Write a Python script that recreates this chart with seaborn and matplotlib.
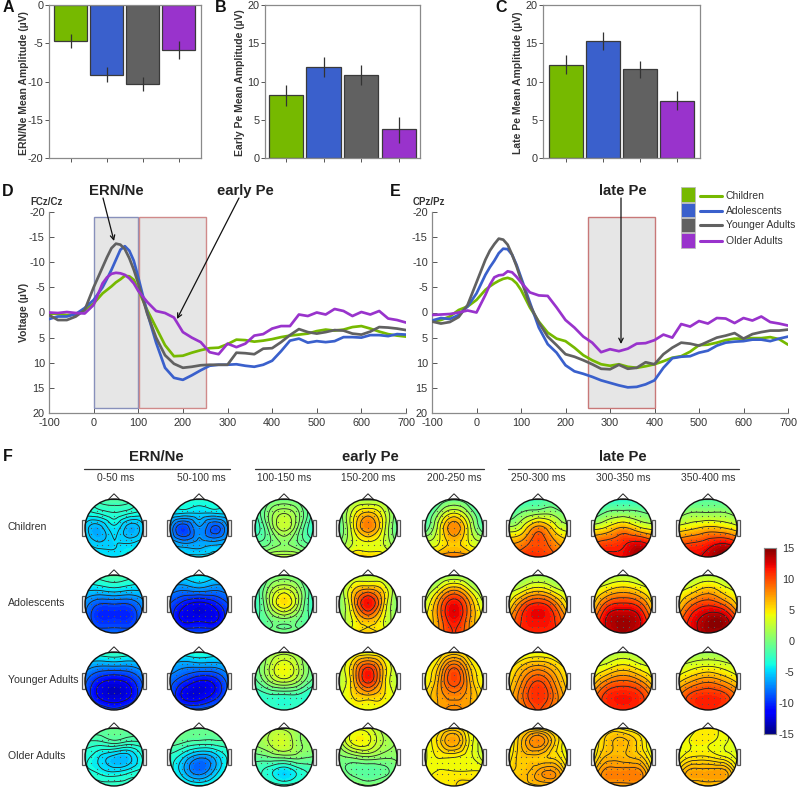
import numpy as np
import pandas as pd
import matplotlib
matplotlib.use('Agg')
import matplotlib.pyplot as plt
import matplotlib.tri as mtri
from matplotlib.patches import Circle, Rectangle, Polygon
from matplotlib.lines import Line2D
import seaborn as sns

W, H = 798, 791

groups = ['Children', 'Adolescents', 'Younger Adults', 'Older Adults']
colors = ['#76B900', '#3A60CC', '#616161', '#9933CC']
edge_col = '#3a3a3a'
text_col = '#333333'
spine_col = '#8a8a8a'

# bar charts
ern_mean = [-4.7, -9.1, -10.3, -5.9]
ern_low = [-3.8, -8.1, -9.4, -4.7]
ern_high = [-5.6, -10.1, -11.2, -7.0]
early_mean = [8.2, 11.9, 10.8, 3.8]
early_low = [6.8, 10.6, 9.5, 2.0]
early_high = [9.6, 13.2, 12.1, 5.4]
late_mean = [12.2, 15.3, 11.6, 7.5]
late_low = [11.0, 14.1, 10.5, 6.3]
late_high = [13.4, 16.5, 12.7, 8.7]

# waveforms, read every 20 ms, every 10 ms around the peak
times = [-100, -80, -60, -40, -20, 0, 20, 30, 40, 50, 60, 70, 80, 90] + list(range(100, 701, 20))
fcz_children = [0.2, 0.3, 0.5, 0.4, -0.5, -1.8, -3.8, -4.5, -5.2, -6, -6.6, -7.3, -7.2, -6.5, -4.5, -0.5, 3, 6.5, 8.7, 8.6, 8, 7.5, 7.1, 7, 6.3,
                5.4, 5.5, 5.8, 5.6, 5.3, 4.9, 4.6, 4.4, 4.2, 3.7, 3.4, 3.6, 3.4, 2.9, 2.7, 3.2, 3.8, 4.3, 4.6, 4.8]
fcz_adolescents = [1.3, 0.8, 0.8, 0.3, -0.9, -2.5, -5, -6.7, -8.5, -10.5, -12.5, -13.2, -12.3, -10.3, -7, 0, 6, 11, 13, 13.4, 12.5, 11.5, 10.6, 10.4, 10.4,
                   10.3, 10.6, 10.8, 10.4, 9.6, 7.7, 5.6, 5.2, 6, 5.7, 5.9, 5.7, 4.9, 4.9, 5, 4.5, 4.5, 4.7, 4.3, 4.4]
fcz_younger = [0.5, 1.5, 1.5, 0.8, -0.5, -5, -9, -11, -12.8, -13.7, -13.5, -12.6, -10.8, -8.5, -5.8, 0.2, 5, 8.5, 10.2, 11, 10.8, 10.5, 10.4, 10.4, 10.4,
               8, 8.1, 8.3, 7.2, 7.1, 5.9, 4.5, 3.3, 3.9, 4.2, 3.9, 3.5, 3.6, 4.2, 4.4, 3.8, 2.9, 3, 3.2, 3.5]
fcz_older = [0, 0.1, -0.1, 0.1, 0.2, -1.5, -5.8, -7, -7.7, -7.9, -7.8, -7.5, -6.8, -5.8, -4.3, -2.1, -0.3, 0.1, 1, 3.9, 5, 5.9, 7.9, 8.3, 6.2,
             6.9, 6.2, 4.6, 4.3, 3.2, 2.7, 2.7, 0.4, 0.7, 0, 0.4, -0.7, -0.3, 0.7, -0.1, 0.4, -0.3, 1.2, 1.5, 2]
cpz_children = [1.8, 1.5, 0.8, -0.5, -1.2, -2.5, -4.5, -5.2, -5.8, -6.3, -6.7, -6.9, -6.6, -5.8, -4.5, -1, 1.8, 4, 5.2, 5.7, 7, 8.5, 9.5, 10.3, 10.6,
                10.3, 10.8, 11, 10.7, 10.3, 9.7, 9, 8.7, 7.8, 6.5, 6.4, 6, 5.5, 5.2, 5.2, 5.1, 5.1, 4.9, 5.3, 6.4]
cpz_adolescents = [1.6, 1.1, 1.3, 0.5, -1.2, -3.8, -7.5, -9, -10.3, -11.8, -12.7, -12.6, -11.5, -9.5, -7, -2, 3, 6.3, 8, 10.5, 11.7, 12.2, 12.8, 13.5, 14,
                   14.5, 14.9, 14.8, 14.3, 13.5, 11, 9.1, 8.8, 8.7, 8, 7.6, 6.6, 6, 5.8, 5.7, 5.4, 5.4, 5.7, 5.2, 4.8]
cpz_younger = [1.8, 2.2, 1.9, 0.9, -1.5, -6, -10.5, -12.3, -13.6, -14.7, -14.5, -13.5, -11.5, -9.2, -6.5, -1.5, 2, 4.8, 6.5, 8.3, 8.8, 9.5, 10.3, 11.2, 11.3,
               10.4, 11.2, 11, 9.9, 10.3, 8.3, 7, 6, 6.2, 6.6, 5.8, 5, 4.6, 4.1, 5.2, 4.3, 3.9, 3.6, 3.6, 3.4]
cpz_older = [0.5, 0.4, 0.3, 0, -0.4, 0, -3.5, -5.5, -7, -7.4, -7.5, -8.2, -8, -7.1, -6, -4, -3.4, -3.3, -1, 1.5, 3, 4.8, 6, 7.9, 7.3,
             7.7, 7.2, 6.2, 6.1, 5.5, 4.4, 5, 2.3, 2.8, 1.7, 2.2, 1.1, 1.2, 2.1, 1.1, 1.6, 0.8, 1.9, 2.2, 2.6]

window_labels = ['0-50 ms', '50-100 ms', '100-150 ms', '150-200 ms', '200-250 ms',
                 '250-300 ms', '300-350 ms', '350-400 ms']

# scalp maps: 5 rows front to back, 5 columns left to right, one map per window
topo_children = [
    [[-3, -2, -1.5, -2, -3], [-4, -3.5, -3, -3.5, -4], [-5, -6, -4.5, -6, -5], [-4.5, -5.5, -5, -5, -4.5], [-4, -4, -4.5, -4, -4]],
    [[-4, -3.5, -3, -3.5, -4], [-5, -5, -5, -5, -5], [-6.5, -9.5, -7, -9, -6.5], [-6, -7, -6.5, -6.5, -6], [-4, -4.5, -4.5, -4.5, -4]],
    [[-2, -1, -0.5, -1, -2], [-2.5, 0.5, 2, 0.5, -2.5], [-3, 0, 2.5, 0, -3], [-1, -0.5, 0.5, -0.5, -1.5], [2, 2.5, 3, 2.5, 2]],
    [[0, 1, 1, 1, 0], [-1, 3.5, 6, 3.5, -1], [-1.5, 4, 8, 4, -1.5], [0, 3, 4, 3, 0], [4, 6, 6, 5.5, 4]],
    [[-3, -2, -1, -2, -3], [-2.5, 1, 4, 1, -2.5], [-2, 3.5, 8, 3.5, -2], [3, 4, 6, 4, 3], [7, 8, 9, 8, 7]],
    [[-4, -3, -2, -2, -3], [-2, 0, 1, 1, -1], [2, 4, 8, 5, 2.5], [7, 8, 10, 8, 6], [10, 11, 11, 10, 9]],
    [[-4, -3.5, -3, -3.5, -4], [-2, 0, 0.5, 0, -1], [3.5, 5, 7, 5, 3.5], [9, 10, 11, 12, 10], [11, 12, 12, 14, 13]],
    [[-2, -2, -1.5, -2, -2], [0, 1, 1, 1, 0], [4, 5, 6, 5.5, 4], [9, 10, 11, 12, 10], [12, 12, 13, 15, 14]],
]
topo_adolescents = [
    [[-3, -2, -1.5, -2, -3], [-5, -5, -4.5, -5, -5], [-7, -9, -9, -9, -7], [-7.5, -10, -10, -10, -7.5], [-7, -8, -8, -8, -7]],
    [[-5, -4.5, -4, -4.5, -5], [-7, -7.5, -7, -7.5, -7], [-9, -11, -12, -11, -9], [-9, -12, -12, -12, -9], [-7, -8.5, -9, -8.5, -7]],
    [[-2, -1, 0, -1, -2], [-3, 1, 3, 1, -3], [-3, 1.5, 5, 1.5, -3], [-2, -0.5, 0.5, -0.5, -2], [0, 0, 0, 0, 0]],
    [[1, 1.5, 2, 1.5, 1], [0, 5, 7, 5, 0], [0, 6, 12, 6, 0], [1, 4, 7, 4, 1], [4, 5, 6, 5, 4]],
    [[-1, 0, 0.5, 0, -1], [0.5, 4, 7, 4, 0.5], [2.5, 8, 12, 8, 2.5], [4, 8, 12, 8, 4], [6, 8, 11, 8, 6]],
    [[0, 0.5, 1, 0.5, 0], [2, 3.5, 5, 3.5, 2], [4, 9, 11, 9, 4], [7, 11, 12, 11, 7], [9, 11, 11, 11, 9]],
    [[1, 1, 1.5, 1, 1], [3, 5, 6, 5, 3], [5, 10, 11, 10, 5], [8, 13, 14, 13, 8], [10, 12, 14, 12, 10]],
    [[0.5, 1, 1.5, 1, 0.5], [3, 4.5, 6, 4.5, 3], [5, 9, 10.5, 9, 5], [8, 12, 14, 14, 9], [10, 12, 14, 13, 11]],
]
topo_younger = [
    [[-3, -2.5, -2, -2.5, -3], [-6, -7, -7, -7, -6], [-8, -11, -12, -11, -8], [-8, -12, -13, -12, -8], [-6, -8, -9.5, -8, -6]],
    [[-4, -3.5, -3, -3.5, -4], [-6, -7, -7, -7, -6], [-8, -10, -11.5, -11, -8], [-8, -12, -12.5, -11, -8], [-6, -7.5, -8, -7, -6]],
    [[0, 1, 1.5, 1, 0], [-1, 2, 4, 2, -1], [-1.5, 1, 2.5, 1, -1.5], [-3, -2.5, -2.5, -2.5, -3.5], [-2, -2, -2.5, -2, -2]],
    [[2, 3, 3, 3, 2], [2, 6, 10, 6, 2], [2, 6, 11, 6, 2], [3, 5, 6, 5, 3], [3, 4, 4.5, 4, 3]],
    [[3, 4, 5, 4, 3], [4, 6, 9, 6, 4], [4, 7, 10, 7, 4], [5, 7, 8, 7, 5], [5, 7, 8, 7, 5]],
    [[2, 3, 3.5, 3, 2], [4, 6, 7, 6, 4], [5, 8, 10, 8, 5], [6, 9, 11, 9, 6], [7, 8, 10, 8, 7]],
    [[0.5, 1, 2, 1, 0.5], [3, 4, 5, 4, 3], [5, 8, 9, 8, 5], [8, 11, 11.5, 11, 8], [8, 10, 11, 10, 8]],
    [[0, 0.5, 1, 0.5, 0], [2.5, 3.5, 4, 3.5, 2.5], [5, 7, 8, 7, 5], [8, 10.5, 11, 10.5, 8], [8, 10, 11, 10, 8]],
]
topo_older = [
    [[-1.5, -1, -1, -1, -1.5], [-2.5, -2.5, -2, -2.5, -2.5], [-3.5, -4.5, -5.5, -5.5, -3.5], [-3.5, -4, -4.5, -4, -3.5], [-2.5, -2.5, -2.5, -2.5, -2.5]],
    [[0, -0.5, -1, -1, -1], [-1, -1.5, -2, -2, -2], [-3, -5, -7, -6, -3.5], [-3, -6, -8, -6, -3], [-2, -3, -3.5, -3, -2]],
    [[1, 1.5, 1.5, 1, 1], [1, 2, 3, 1, 1], [-1, -0.5, 0, 0, -0.5], [-2, -3.5, -5, -3.5, -2], [-1, -1.5, -2, -1.5, -1]],
    [[1, 3, 3, 1.5, 1], [1, 4, 4, 2, 1], [0, 0.5, 1, 0.5, 0.5], [0, -1, -1.5, -1, 0], [1, 1, 0.5, 1, 1]],
    [[3, 4.5, 5, 4, 2.5], [3.5, 5.5, 7, 4.5, 2.5], [3.5, 4.5, 4.5, 4, 2.5], [4, 4.5, 4.5, 4.5, 4.5], [4.5, 4.5, 5, 5.5, 4.5]],
    [[4, 5, 5, 4.5, 3.5], [4, 6.5, 8, 6, 3.5], [4.5, 6, 6, 5.5, 4], [5.5, 6, 7, 7.5, 5], [6, 6, 6, 6, 5.5]],
    [[3, 5, 4.5, 4, 3], [4, 6, 6.5, 5.5, 3], [4.5, 6.5, 6.5, 6, 4], [6, 8, 8, 8, 5], [6, 7, 7, 7, 5.5]],
    [[3, 4, 5, 4, 3], [3.5, 4.5, 4.5, 4, 3], [4, 5, 5, 4.5, 3.5], [5.5, 7, 7, 7, 4.5], [5, 5.5, 6, 5.5, 5]],
]
topos = [topo_children, topo_adolescents, topo_younger, topo_older]

sns.set_theme(style='white')
plt.rcParams['font.family'] = ['Liberation Sans', 'DejaVu Sans']
plt.rcParams['text.color'] = text_col
plt.rcParams['axes.labelcolor'] = text_col
plt.rcParams['axes.unicode_minus'] = False

fig = plt.figure(figsize=(W / 100, H / 100), dpi=100)


def add_axes_px(left, top, right, bottom):
    return fig.add_axes([left / W, 1 - bottom / H, (right - left) / W, (bottom - top) / H])


def fig_text(x, y, s, **kw):
    kw.setdefault('ha', 'center')
    kw.setdefault('va', 'center')
    fig.text(x / W, 1 - y / H, s, **kw)


def draw_bars(box, xlim, means, low, high, ylim, yticks, ylabel, letter, letter_x):
    ax = add_axes_px(*box)
    df = pd.DataFrame({'group': groups, 'amp': means})
    sns.barplot(data=df, x='group', y='amp', hue='group', palette=colors, order=groups,
                hue_order=groups, dodge=False, width=0.91, errorbar=None, legend=False, ax=ax,
                saturation=1, edgecolor=edge_col, linewidth=0.9)
    ax.vlines(range(4), low, high, color='#333333', lw=0.9, zorder=5)
    ax.set_xlim(*xlim)
    ax.set_ylim(*ylim)
    ax.set_yticks(yticks)
    ax.set_xticks(range(4))
    ax.set_xticklabels([])
    ax.set_xlabel('')
    ax.set_ylabel(ylabel, fontsize=7.5, fontweight='bold')
    ax.yaxis.set_label_coords(-20 / (box[2] - box[0]), 0.49)
    ax.tick_params(axis='both', length=3, width=0.7, color='#555555', labelsize=7.8,
                   labelcolor=text_col, pad=1, left=True, bottom=True)
    for s in ax.spines.values():
        s.set_color(spine_col)
        s.set_linewidth(0.9)
    fig_text(letter_x, 8, letter, fontsize=11.5, fontweight='bold', color='#111111')
    return ax


draw_bars((49, 5, 201, 158), (-0.6, 3.62), ern_mean, ern_low, ern_high, (-20, 0), [0, -5, -10, -15, -20],
          'ERN/Ne Mean Amplitude (µV)', 'A', 8)
draw_bars((265, 5, 420, 158), (-0.56, 3.57), early_mean, early_low, early_high, (0, 20), [0, 5, 10, 15, 20],
          'Early Pe Mean Amplitude (µV)', 'B', 221)
draw_bars((543, 5, 700, 158), (-0.62, 3.62), late_mean, late_low, late_high, (0, 20), [0, 5, 10, 15, 20],
          'Late Pe Mean Amplitude (µV)', 'C', 501)


def draw_wave(box, series, boxes):
    ax = add_axes_px(*box)
    for x0, x1, col in boxes:
        ax.add_patch(Rectangle((x0, -19), x1 - x0, 38, facecolor='#E6E6E6', edgecolor=col, lw=1.0, zorder=1))
    df = pd.DataFrame({'time': times * 4,
                       'volt': sum(series, []),
                       'group': np.repeat(groups, len(times))})
    sns.lineplot(data=df, x='time', y='volt', hue='group', hue_order=groups, palette=colors,
                 lw=1.95, legend=False, errorbar=None, ax=ax, zorder=3, solid_joinstyle='round')
    ax.set_xlim(-100, 700)
    ax.set_ylim(20, -20)
    ax.set_xticks(range(-100, 701, 100))
    ax.set_yticks(range(-20, 21, 5))
    ax.set_xlabel('')
    ax.set_ylabel('')
    ax.tick_params(axis='both', direction='in', length=3.5, width=0.7, color='#555555',
                   labelsize=7.8, labelcolor=text_col, pad=3, left=True, bottom=True)
    ax.tick_params(axis='x', pad=3.5)
    sns.despine(ax=ax)
    for side in ('left', 'bottom'):
        ax.spines[side].set_color(spine_col)
        ax.spines[side].set_linewidth(0.9)
    return ax


ax_d = draw_wave((49, 212, 406, 413), [fcz_children, fcz_adolescents, fcz_younger, fcz_older],
                 [(0, 100, '#8890BB'), (102, 251, '#D08A8A')])
ax_e = draw_wave((432, 212, 788, 413), [cpz_children, cpz_adolescents, cpz_younger, cpz_older],
                 [(250, 400, '#C87878')])
ax_d.set_ylabel('Voltage (µV)', fontsize=7.5, fontweight='bold')
ax_d.yaxis.set_label_coords(-20 / 357, 0.5)

fig_text(8, 191, 'D', fontsize=11.5, fontweight='bold', color='#111111')
fig_text(395, 191, 'E', fontsize=11.5, fontweight='bold', color='#111111')
fig_text(47, 202, 'FCz/Cz', fontsize=7, fontweight='bold')
fig_text(429, 202, 'CPz/Pz', fontsize=7, fontweight='bold')
fig_text(116, 191, 'ERN/Ne', fontsize=10.7, fontweight='bold', color='#222222')
fig_text(245, 191, 'early Pe', fontsize=10.7, fontweight='bold', color='#222222')
fig_text(623, 191, 'late Pe', fontsize=10.7, fontweight='bold', color='#222222')

arrow_px = [((103, 198), (114, 241)), ((239, 198), (177, 319)), ((621, 198), (621, 344))]
overlay = fig.add_axes([0, 0, 1, 1], facecolor='none')
overlay.set_xlim(0, W)
overlay.set_ylim(H, 0)
overlay.axis('off')
overlay.set_zorder(10)
for start, end in arrow_px:
    overlay.annotate('', xy=end, xytext=start,
                     arrowprops=dict(arrowstyle='->', color='#111111', lw=0.9, mutation_scale=8, shrinkA=0, shrinkB=0))

# legend on the right of panel E
legend_y = [196, 211, 225, 241]
square_y = [194.5, 210, 225, 240.5]
for name, col, y, sq in zip(groups, colors, legend_y, square_y):
    overlay.add_patch(Rectangle((681, sq - 7.2), 14, 14.4, facecolor=col, edgecolor='#bbbbbb', lw=0.6))
    overlay.add_line(Line2D([700, 722], [y, y], color=col, lw=2.2))
    overlay.text(726, y, name, fontsize=7.5, va='center', ha='left', color=text_col)

# F: scalp maps
head_x = [114, 199, 284, 368, 454, 538, 623, 708]
head_y = [528, 604, 681, 757]
head_r = 29
span = 1.3
cmap = plt.get_cmap('jet')
fill_levels = np.linspace(-17, 17, 69)

gx, gy = np.meshgrid(np.linspace(-1.02, 1.02, 5), np.linspace(1.02, -1.02, 5))
base_tri = mtri.Triangulation(gx.ravel(), gy.ravel())
refiner = mtri.UniformTriRefiner(base_tri)

sx, sy = np.meshgrid(np.arange(-0.8, 0.81, 0.2), np.arange(-0.8, 0.81, 0.2))
inside = sx ** 2 + sy ** 2 < 0.85 ** 2
sx, sy = sx[inside], sy[inside]

for r, row_y in enumerate(head_y):
    for c, col_x in enumerate(head_x):
        size = head_r * span
        ax = add_axes_px(col_x - size, row_y - size, col_x + size, row_y + size)
        ax.set_xlim(-span, span)
        ax.set_ylim(-span, span)
        ax.axis('off')
        z = np.array(topos[r][c], dtype=float).ravel()
        fine_tri, fine_z = refiner.refine_field(z, subdiv=4)
        clip = Circle((0, 0), 1.0, transform=ax.transData)
        # contour lines are spaced per map, like an EEG topoplot
        on_head = fine_z[fine_tri.x ** 2 + fine_tri.y ** 2 < 1]
        line_levels = np.linspace(on_head.min(), on_head.max(), 8)[1:-1]
        cf = ax.tricontourf(fine_tri, fine_z, levels=fill_levels, cmap=cmap, vmin=-15, vmax=15, extend='both')
        cl = ax.tricontour(fine_tri, fine_z, levels=line_levels, colors='#222222', linewidths=0.6, linestyles='solid')
        cf.set_clip_path(clip)
        cl.set_clip_path(clip)
        ax.scatter(sx, sy, s=0.8, color='#555555', linewidths=0, zorder=4)
        ax.add_patch(Circle((0, 0), 1.0, fill=False, edgecolor='#111111', lw=1.0, zorder=5))
        ax.add_patch(Polygon([[-0.2, 0.98], [0, 1.18], [0.2, 0.98]], closed=True, facecolor='white',
                             edgecolor='#222222', lw=0.7, zorder=3))
        for sign in (-1, 1):
            ax.add_patch(Rectangle((1.0 if sign > 0 else -1.12, -0.27), 0.12, 0.54, facecolor='#eeeeee',
                                   edgecolor='#555555', lw=0.9, zorder=3))

for name, y in zip(groups, head_y):
    fig_text(8, y - 1, name, ha='left', fontsize=7.6, color=text_col)
for label, x in zip(window_labels, head_x):
    fig_text(x + 2 if x < 200 else x, 478, label, fontsize=7.4, color=text_col)

fig_text(8, 456, 'F', fontsize=11.5, fontweight='bold', color='#111111')
header_spans = [('ERN/Ne', 156, 84, 230), ('early Pe', 370, 255, 484), ('late Pe', 623, 508, 739)]
for name, x, x0, x1 in header_spans:
    fig_text(x, 457, name, fontsize=10.7, fontweight='bold', color='#222222')
    overlay.add_line(Line2D([x0, x1], [468.5, 468.5], color='#333333', lw=0.9))

# colour bar
cax = add_axes_px(764, 548, 776, 734)
grad = np.linspace(15, -15, 256).reshape(-1, 1)
sns.heatmap(grad, ax=cax, cmap=cmap, vmin=-15, vmax=15, cbar=False, xticklabels=False, yticklabels=False)
for s in cax.spines.values():
    s.set_visible(True)
    s.set_color(spine_col)
    s.set_linewidth(0.8)
cb_ticks = [15, 10, 5, 0, -5, -10, -15]
cax.yaxis.tick_right()
cax.set_yticks([(15 - t) / 30 * 256 for t in cb_ticks])
cax.set_yticklabels(cb_ticks, rotation=0, fontsize=7.8, color=text_col, ha='right')
cax.tick_params(axis='y', direction='in', length=2, width=0.6, color='#555555', pad=13.5, right=True)

fig.savefig('out.png', dpi=100)
